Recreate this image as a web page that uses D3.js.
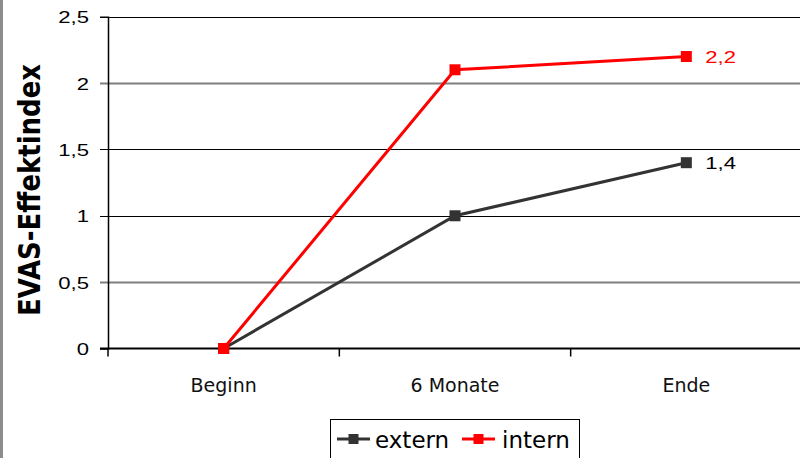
<!DOCTYPE html>
<html>
<head>
<meta charset="utf-8">
<script src="https://cdn.jsdelivr.net/npm/d3@7"></script>
<style>
  html, body { margin: 0; padding: 0; background: #fff; }
  svg { display: block; }
</style>
</head>
<body>
<svg id="chart" width="800" height="458"></svg>
<script>
// EVAS effect index over time, external vs internal
const categories = ["Beginn", "6 Monate", "Ende"];
const externValues = [0, 1.0, 1.4];
const internValues = [0, 2.1, 2.2];
const yTicks = [0, 0.5, 1, 1.5, 2, 2.5];
const seriesNames = ["extern", "intern"];

const fmt = v => String(v).replace(".", ",");

const svg = d3.select("#chart");
const W = 800, H = 458;
const plot = { left: 108, right: 802, top: 16.7, bottom: 348.5 };

const x = d3.scaleBand().domain(categories).range([plot.left, plot.right]);
const y = d3.scaleLinear().domain([0, 2.5]).range([plot.bottom, plot.top]);

svg.append("rect").attr("width", W).attr("height", H).attr("fill", "#fff");
// left frame edge
svg.append("rect").attr("x", 0).attr("y", 0).attr("width", 3).attr("height", H).attr("fill", "#8c8c8c");

// horizontal gridlines (including the tick stubs left of the axis)
const gridStyle = { 0.5: ["#7f7f7f", 2], 2: ["#7f7f7f", 2] };
svg.append("g").selectAll("line")
  .data(yTicks.filter(t => t > 0))
  .join("line")
  .attr("x1", plot.left - 8).attr("x2", W)
  .attr("y1", d => Math.round(y(d)) + 0.5).attr("y2", d => Math.round(y(d)) + 0.5)
  .attr("stroke", d => gridStyle[d] ? gridStyle[d][0] : "#000")
  .attr("stroke-width", d => gridStyle[d] ? gridStyle[d][1] : 1);

// y axis
const yAxis = svg.append("g")
  .attr("transform", `translate(${plot.left},0)`)
  .call(d3.axisLeft(y).tickValues(yTicks).tickFormat(fmt).tickSize(8).tickPadding(0));
yAxis.select(".domain").attr("stroke", "#000").attr("stroke-width", 1.5);
yAxis.selectAll(".tick line").attr("stroke", "none");
yAxis.selectAll(".tick text")
  .attr("font-family", "Liberation Sans, Arial, sans-serif")
  .attr("font-size", 17)
  .attr("fill", "#000")
  .attr("text-anchor", "end")
  .attr("x", -19 / 1.3)
  .attr("dy", "0.36em")
  .attr("transform", "scale(1.3,1)");

// x axis
const bandEdges = categories.map(c => x(c)).concat([x(categories[categories.length - 1]) + x.bandwidth()]);
svg.append("line")
  .attr("x1", plot.left - 8).attr("x2", W)
  .attr("y1", plot.bottom).attr("y2", plot.bottom)
  .attr("stroke", "#000").attr("stroke-width", 2);
svg.append("g").selectAll("line")
  .data(bandEdges)
  .join("line")
  .attr("x1", d => d).attr("x2", d => d)
  .attr("y1", plot.bottom).attr("y2", plot.bottom + 8)
  .attr("stroke", "#000").attr("stroke-width", 1.5);
svg.append("g").selectAll("text")
  .data(categories)
  .join("text")
  .attr("x", d => x(d) + x.bandwidth() / 2)
  .attr("y", 392)
  .attr("text-anchor", "middle")
  .attr("font-family", "DejaVu Sans, sans-serif")
  .attr("font-size", 19)
  .attr("fill", "#111")
  .text(d => d);

// y axis title
svg.append("text")
  .attr("transform", "translate(40,190) scale(1.15,1) rotate(-90)")
  .attr("text-anchor", "middle")
  .attr("font-family", "DejaVu Sans, sans-serif")
  .attr("font-weight", "bold")
  .attr("font-size", 26)
  .attr("fill", "#000")
  .text("EVAS-Effektindex");

// series
const series = [
  { name: seriesNames[0], values: externValues, color: "#333333" },
  { name: seriesNames[1], values: internValues, color: "#ff0000" }
];
const cx = c => x(c) + x.bandwidth() / 2;
const line = d3.line().x((d, i) => cx(categories[i])).y(d => y(d));

series.forEach(s => {
  const g = svg.append("g");
  g.append("path")
    .attr("d", line(s.values))
    .attr("fill", "none")
    .attr("stroke", s.color)
    .attr("stroke-width", 3);
  g.selectAll("rect")
    .data(s.values)
    .join("rect")
    .attr("x", (d, i) => cx(categories[i]) - 5.5)
    .attr("y", d => y(d) - 5.5)
    .attr("width", 11).attr("height", 11)
    .attr("fill", s.color);
  // value label at the last point
  const last = s.values.length - 1;
  g.append("text")
    .attr("transform", `translate(${cx(categories[last]) + 19},${y(s.values[last])}) scale(1.3,1)`)
    .attr("dy", "0.36em")
    .attr("font-family", "Liberation Sans, Arial, sans-serif")
    .attr("font-size", 17)
    .attr("fill", s.name === "intern" ? "#ff0000" : "#000")
    .text(fmt(s.values[last]));
});

// legend
const legend = svg.append("g");
legend.append("rect")
  .attr("x", 330.5).attr("y", 419.5)
  .attr("width", 249).attr("height", 50)
  .attr("fill", "#fff").attr("stroke", "#000").attr("stroke-width", 1);
const legendItems = [
  { x1: 337, x2: 370, tx: 375 },
  { x1: 462, x2: 495, tx: 502 }
];
series.forEach((s, i) => {
  const it = legendItems[i];
  legend.append("line")
    .attr("x1", it.x1).attr("x2", it.x2)
    .attr("y1", 439).attr("y2", 439)
    .attr("stroke", s.color).attr("stroke-width", 3);
  legend.append("rect")
    .attr("x", (it.x1 + it.x2) / 2 - 5).attr("y", 434)
    .attr("width", 10).attr("height", 10)
    .attr("fill", s.color);
  legend.append("text")
    .attr("x", it.tx).attr("y", 448)
    .attr("font-family", "DejaVu Sans, sans-serif")
    .attr("font-size", 23)
    .attr("fill", "#000")
    .text(s.name);
});
</script>
</body>
</html>
